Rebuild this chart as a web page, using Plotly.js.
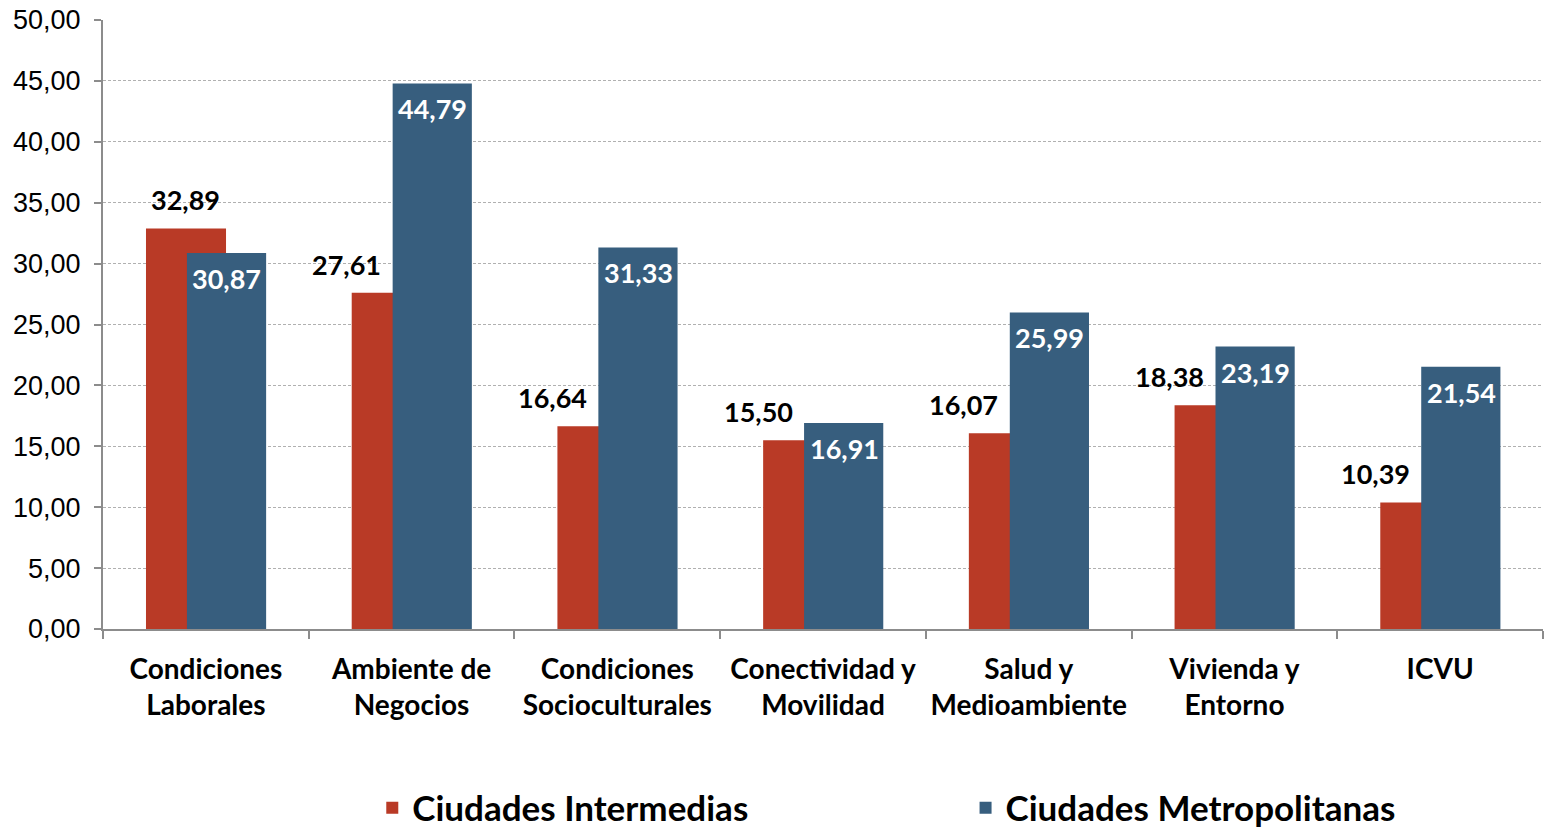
<!DOCTYPE html>
<html>
<head>
<meta charset="utf-8">
<script src="https://cdn.plot.ly/plotly-3.0.1.min.js"></script>
<style>html,body{margin:0;padding:0;background:#fff;}#chart{width:1544px;height:827px;}</style>
</head>
<body>
<div id="chart"></div>
<script>
var categories = ["Condiciones<br>Laborales", "Ambiente de<br>Negocios", "Condiciones<br>Socioculturales", "Conectividad y<br>Movilidad", "Salud y<br>Medioambiente", "Vivienda y<br>Entorno", "ICVU"];
var seriesNames = ["Ciudades Intermedias", "Ciudades Metropolitanas"];
var intermedias = [32.89, 27.61, 16.64, 15.50, 16.07, 18.38, 10.39];
var metropolitanas = [30.87, 44.79, 31.33, 16.91, 25.99, 23.19, 21.54];
var yTicks = [0, 5, 10, 15, 20, 25, 30, 35, 40, 45, 50];

var RED = '#B93A26', BLUE = '#375E7E';
var FONT = 'Lato, sans-serif';

function fmt(v) { return v.toFixed(2).replace('.', ','); }

var traces = [
  {type: 'bar', name: seriesNames[0], x: categories, y: intermedias, legend: 'legend',
   width: 0.389, offset: -0.291, marker: {color: RED}, hoverinfo: 'y'},
  {type: 'bar', name: seriesNames[1], x: categories, y: metropolitanas, legend: 'legend2',
   width: 0.385, offset: -0.092, marker: {color: BLUE}, hoverinfo: 'y'}
];

var annotations = [];
categories.forEach(function (c, i) {
  var r = intermedias[i], b = metropolitanas[i];
  annotations.push({x: c, y: r, xref: 'x', yref: 'y', text: '<b>' + fmt(r) + '</b>',
    showarrow: false, yanchor: 'bottom', xanchor: 'center', yshift: 10,
    xshift: r > b ? -20 : -65, font: {family: FONT, size: 27, color: '#000'}});
  annotations.push({x: c, y: b, xref: 'x', yref: 'y', text: '<b>' + fmt(b) + '</b>',
    showarrow: false, yanchor: 'top', xanchor: 'center', yshift: -7,
    xshift: 21, font: {family: FONT, size: 27, color: '#fff'}});
});

var legendFont = {family: FONT, size: 35, color: '#000', weight: 'bold'};

var layout = {
  width: 1544, height: 827,
  margin: {l: 103, r: 1, t: 20, b: 198},
  paper_bgcolor: '#fff', plot_bgcolor: '#fff',
  barmode: 'overlay',
  separators: ',.',
  showlegend: true,
  legend: {orientation: 'h', x: 0.187, xanchor: 'left', yref: 'container', y: 0.023, yanchor: 'middle',
    font: legendFont, bgcolor: 'rgba(0,0,0,0)'},
  legend2: {orientation: 'h', x: 0.599, xanchor: 'left', yref: 'container', y: 0.023, yanchor: 'middle',
    font: legendFont, bgcolor: 'rgba(0,0,0,0)'},
  xaxis: {type: 'category', showgrid: false, showline: true, linecolor: '#8C8C8C', linewidth: 2,
    ticks: 'outside', tickson: 'boundaries', ticklen: 8, tickcolor: '#8C8C8C', tickwidth: 2,
    tickangle: 0, automargin: false, ticklabelstandoff: 14,
    tickfont: {family: FONT, size: 28, color: '#000', weight: 'bold'},
    fixedrange: true},
  yaxis: {range: [0, 50], tickvals: yTicks, tickformat: '.2f', showgrid: true,
    gridcolor: '#B0B0B0', griddash: '3px,2px', gridwidth: 1, zeroline: false,
    showline: true, linecolor: '#8C8C8C', linewidth: 2, ticks: 'outside', ticklen: 7,
    tickcolor: '#8C8C8C', tickwidth: 2, automargin: false,
    tickfont: {family: 'Liberation Sans, Arial, sans-serif', size: 27, color: '#000'},
    ticklabelstandoff: 8, fixedrange: true},
  annotations: annotations
};

Plotly.newPlot('chart', traces, layout, {displayModeBar: false, staticPlot: true});
</script>
</body>
</html>
